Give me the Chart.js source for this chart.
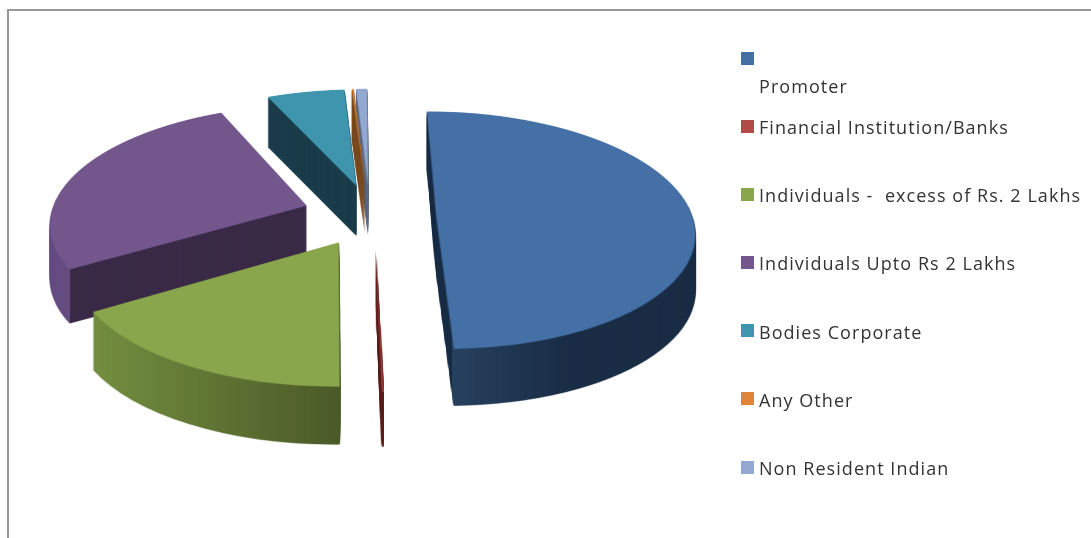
<!DOCTYPE html>
<html>
<head>
<meta charset="utf-8">
<style>
  html, body { margin: 0; padding: 0; background: #fff; overflow: hidden; }
  #frame { position: absolute; left: 7px; top: 9px; width: 1084px; height: 529px; border-top: 2px solid #989898; border-left: 2px solid #989898; }
  canvas { position: absolute; left: 0; top: 0; }
  .key { position: absolute; width: 13px; height: 13px; left: 741px; }
  .name { position: absolute; left: 759px; font: 18px "Open Sans"; letter-spacing: 1.05px; color: #333; white-space: pre; line-height: 24px; }
</style>
<script src="https://cdn.jsdelivr.net/npm/chart.js@4"></script>
</head>
<body>
<div id="frame"></div>
<canvas id="share-pie" width="1091" height="538"></canvas>
<div id="legend"></div>
<script>
/* chart data */
let categories = ['Promoter', 'Financial Institution/Banks', 'Individuals -  excess of Rs. 2 Lakhs', 'Individuals Upto Rs 2 Lakhs', 'Bodies Corporate', 'Any Other', 'Non Resident Indian']
let shares = [49.7, 0.08, 16.64, 27, 5.7, 0.12, 0.8]

let topColors = ['#4470a6', '#b24a47', '#8aa64c', '#72568c', '#3f95ae', '#e0843a', '#93a9d1']
// side wall colours as [x pixel, colour] stops
let wallColors = [
    [[452, '#1a2e46'], [452, '#27415f'], [570, '#1a2d45']],
    [[370, '#5a1e1c']],
    [[90, '#748f40'], [342, '#4a5a28']],
    [[70, '#654c80'], [70, '#3a2a47']],
    [[270, '#1a3c4a']],
    [[360, '#7a4a20']],
    [[360, '#5c6a85']]
]
let wallDepths = [57, 55, 58, 54, 50, 50, 50]
let sliceNudge = [0, 5, 3, 1, 3, 0, 1] // small sideways fix per slice, px
let drawOrder = [6, 5, 4, 3, 2, 1, 0]

// the 3D look: flat pie is drawn, pulled apart, then tipped back in perspective
let explode = 67
let tilt = 0.456
let perspective = 0.000523
let flatSize = 900

function makeCanvas(w, h) {
    let c = document.createElement('canvas')
    c.width = w
    c.height = h
    return c
}

// project a flat slice picture on the screen, row by row, at 2x then down to 1x
function tipBack(flat, cx, cy, w, h) {
    let big = makeCanvas(w * 2, h * 2)
    let bigCtx = big.getContext('2d')
    for (let row = 0; row < h * 2; row++) {
        let dy = (row + 0.5) / 2 - cy
        let v = dy / (tilt + perspective * dy)
        let nextDy = dy + 0.5
        let nextV = nextDy / (tilt + perspective * nextDy)
        if (Math.abs(v) > flatSize / 2 - 2) continue
        let s = 1 / (1 - perspective * v)
        bigCtx.drawImage(flat, 0, flatSize / 2 + v, flatSize, nextV - v,
            (cx - flatSize / 2 * s) * 2, row, flatSize * s * 2, 1)
    }
    let out = makeCanvas(w, h)
    out.getContext('2d').drawImage(big, 0, 0, w, h)
    return out
}

let pie3d = {
    id: 'pie3d',
    beforeDatasetsDraw(chart) {
        let ctx = chart.ctx
        let arcs = chart.getDatasetMeta(0).data
        let w = chart.width
        let h = chart.height
        drawOrder.forEach(function(i) {
            let arc = arcs[i]
            let flat = makeCanvas(flatSize, flatSize)
            let flatCtx = flat.getContext('2d')
            let mid = (arc.startAngle + arc.endAngle) / 2
            flatCtx.translate(flatSize / 2 - arc.x + Math.cos(mid) * explode, flatSize / 2 - arc.y + Math.sin(mid) * explode)
            arc.draw(flatCtx)

            let top = tipBack(flat, arc.x + sliceNudge[i], arc.y, w, h)

            let wall = makeCanvas(w, h)
            let wallCtx = wall.getContext('2d')
            wallCtx.drawImage(top, 0, 0)
            wallCtx.globalCompositeOperation = 'source-in'
            let grad = wallCtx.createLinearGradient(0, 0, w, 0)
            wallColors[i].forEach(function(stop) {
                grad.addColorStop(stop[0] / w, stop[1])
            })
            wallCtx.fillStyle = grad
            wallCtx.fillRect(0, 0, w, h)

            for (let k = wallDepths[i]; k > 0; k--) {
                ctx.drawImage(wall, 0, k)
            }
            ctx.drawImage(top, 0, 0)
        })
        return false
    }
}

let chart = new Chart(document.querySelector('#share-pie'), {
    type: 'pie',
    data: {
        labels: categories,
        datasets: [{ data: shares, backgroundColor: topColors, borderWidth: 0 }]
    },
    options: {
        responsive: false,
        animation: false,
        events: [],
        rotation: -0.3,
        radius: 256,
        layout: { padding: { right: 353, bottom: 108 } }, // puts the pie centre at 369,215
        plugins: { legend: { display: false }, tooltip: { enabled: false } }
    },
    plugins: [pie3d]
})

// legend, the first entry has its text on the line below the marker
let legend = document.querySelector('#legend')
categories.forEach(function(name, i) {
    let keyMiddle = i == 0 ? 58 : 126 + (i - 1) * 68.2
    let textMiddle = i == 0 ? 86 : keyMiddle + 1
    let key = document.createElement('div')
    key.className = 'key'
    key.style.top = (keyMiddle - 6.5) + 'px'
    key.style.background = topColors[i]
    let text = document.createElement('div')
    text.className = 'name'
    text.style.top = (textMiddle - 12) + 'px'
    text.textContent = name
    legend.appendChild(key)
    legend.appendChild(text)
})
</script>
</body>
</html>
